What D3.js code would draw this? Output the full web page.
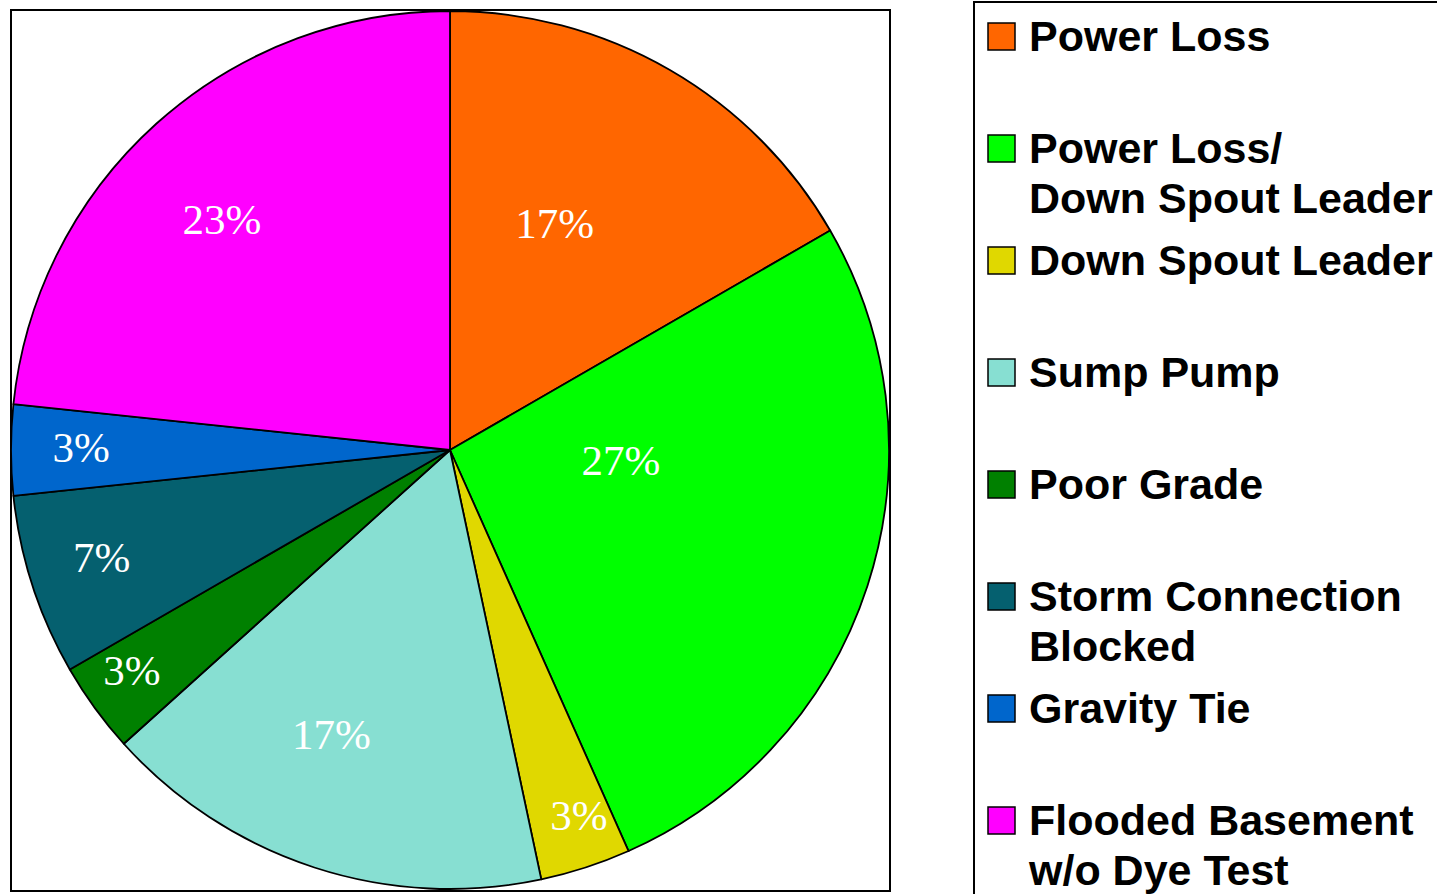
<!DOCTYPE html>
<html>
<head>
<meta charset="utf-8">
<script src="https://cdn.jsdelivr.net/npm/d3@7"></script>
<style>
  html, body { margin: 0; padding: 0; background: #ffffff; overflow: hidden; }
  svg { display: block; }
</style>
</head>
<body>
<svg id="chart" width="1437" height="894"></svg>
<script>
// Inspection causes (number of properties per cause)
const categories = [
  "Power Loss",
  "Power Loss/ Down Spout Leader",
  "Down Spout Leader",
  "Sump Pump",
  "Poor Grade",
  "Storm Connection Blocked",
  "Gravity Tie",
  "Flooded Basement w/o Dye Test"
];
const counts = [5, 8, 1, 5, 1, 2, 1, 7];

// Legend text, broken into lines as displayed
const legendLines = [
  ["Power Loss"],
  ["Power Loss/", "Down Spout Leader"],
  ["Down Spout Leader"],
  ["Sump Pump"],
  ["Poor Grade"],
  ["Storm Connection", "Blocked"],
  ["Gravity Tie"],
  ["Flooded Basement", "w/o Dye Test"]
];

const colors = ["#ff6600", "#00ff00", "#e0d800", "#87dfd2", "#008000", "#05606f", "#0066cc", "#ff00ff"];

// Label placement per slice: [fraction of radius, angular shift from slice middle in degrees]
const labelPlacement = [
  [0.57, -5.3], [0.39, -14.7], [0.88, -1.5], [0.70, 4.7],
  [0.88, 1.4], [0.83, 1.0], [0.84, 0.5], [0.74, -2.6]
];

const svg = d3.select("#chart");
const cx = 450, cy = 450, R = 439;

// Plot frame
svg.append("rect")
  .attr("x", 11).attr("y", 10)
  .attr("width", 879).attr("height", 881)
  .attr("fill", "#ffffff")
  .attr("stroke", "#000").attr("stroke-width", 2);

const total = d3.sum(counts);
const pie = d3.pie().sort(null).value(d => d)(counts);
const arc = d3.arc().innerRadius(0).outerRadius(R);

const g = svg.append("g").attr("transform", `translate(${cx},${cy})`);

g.selectAll("path")
  .data(pie)
  .join("path")
  .attr("d", arc)
  .attr("fill", (d, i) => colors[i])
  .attr("stroke", "#000")
  .attr("stroke-width", 1.8)
  .attr("stroke-linejoin", "round");

g.selectAll("text.pct")
  .data(pie)
  .join("text")
  .attr("class", "pct")
  .attr("transform", (d, i) => {
    const [f, shift] = labelPlacement[i];
    const a = (d.startAngle + d.endAngle) / 2 + shift * Math.PI / 180;
    const r = f * R;
    return `translate(${r * Math.sin(a)},${-r * Math.cos(a)})`;
  })
  .attr("text-anchor", "middle")
  .attr("dy", "0.36em")
  .attr("fill", "#ffffff")
  .attr("font-family", "'Liberation Serif', 'DejaVu Serif', serif")
  .attr("font-size", 43)
  .text(d => Math.round(d.value / total * 100) + "%");

// Legend box (runs off the right and bottom edges)
svg.append("rect")
  .attr("x", 974).attr("y", 2)
  .attr("width", 500).attr("height", 960)
  .attr("fill", "#ffffff")
  .attr("stroke", "#000").attr("stroke-width", 2);

const legend = svg.append("g");
const firstBaseline = 51, step = 112, lineHeight = 50;

categories.forEach((c, i) => {
  const base = firstBaseline + i * step;
  legend.append("rect")
    .attr("x", 988).attr("y", base - 28)
    .attr("width", 27).attr("height", 27)
    .attr("fill", colors[i])
    .attr("stroke", "#000").attr("stroke-width", 1.5);
  const t = legend.append("text")
    .attr("x", 1029).attr("y", base)
    .attr("font-family", "'Liberation Sans', Arial, sans-serif")
    .attr("font-weight", "bold")
    .attr("font-size", 43)
    .attr("fill", "#000");
  legendLines[i].forEach((line, j) => {
    t.append("tspan").attr("x", 1029).attr("y", base + j * lineHeight).text(line);
  });
});
</script>
</body>
</html>
